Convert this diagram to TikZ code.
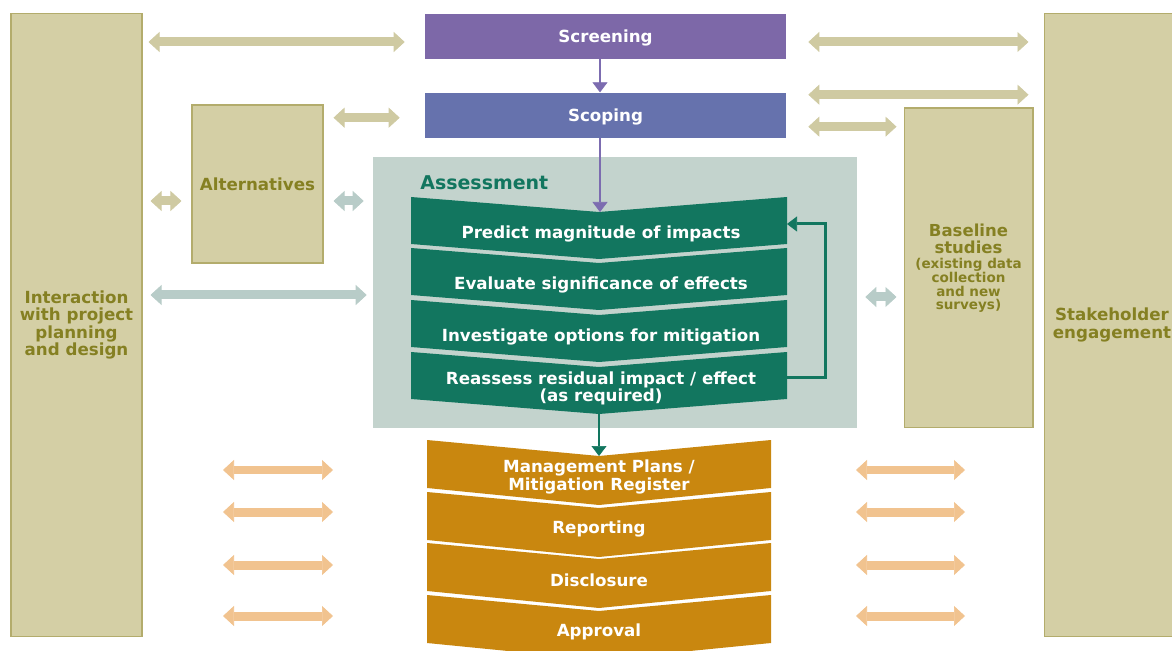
\documentclass[tikz,border=0pt]{standalone}
\usepackage{fontspec}
\setmainfont{DejaVu Sans}
\usetikzlibrary{arrows.meta, positioning, calc}
\definecolor{ScreenPurple}{HTML}{7D68A8}
\definecolor{ScopeBlue}{HTML}{6672AD}
\definecolor{LinkPurple}{HTML}{7C6CB0}
\definecolor{AssessGreen}{HTML}{12765F}
\definecolor{AssessBack}{HTML}{C3D3CD}
\definecolor{TanFill}{HTML}{D4CFA5}
\definecolor{TanEdge}{HTML}{B3AC6C}
\definecolor{TanText}{HTML}{858022}
\definecolor{TanLink}{HTML}{CFCAA2}
\definecolor{GreyLink}{HTML}{B8CCC8}
\definecolor{PlanOrange}{HTML}{C9870F}
\definecolor{OrangeLink}{HTML}{F1C38F}
\tikzset{
    % one bold face for all the labels
    base_font/.style={font=\fontsize{9.5}{9.8}\selectfont\bfseries},
    % tan side columns
    side_box/.style={
        rectangle,
        draw=TanEdge,
        fill=TanFill,
        line width=0.6pt,
        inner sep=0pt,
        align=center,
        text=TanText,
        base_font
    },
    % screening / scoping bars
    stage_block/.style={
        rectangle,
        fill=#1,
        inner sep=0pt,
        minimum width=7.22cm,
        minimum height=0.9cm,
        text depth=0pt,
        text=white,
        base_font
    },
    step_text/.style={
        align=center,
        text=white,
        inner sep=0pt,
        base_font
    },
    link_arrow/.style={
        ->,
        >={Triangle[length=0.2cm, width=0.3cm, line width=0.4pt]},
        draw=#1,
        line width=0.05cm
    },
    wide_arrow/.style={
        <->,
        >={Triangle[length=0.22cm, width=0.4cm, line width=0.4pt]},
        draw=#1,
        line width=0.18cm
    }
}
\begin{document}
\begin{tikzpicture}[x=0.02cm, y=-0.02cm]
    \useasboundingbox (0,0) rectangle (1172,651);

    % --- SIDE COLUMNS ---
    \node[side_box, minimum width=2.62cm, minimum height=12.48cm] (interact) at (76.5,325) {Interaction\\with project\\planning\\and design};
    \node[side_box, minimum width=2.72cm, minimum height=12.48cm] (stake) at (1112,325) {Stakeholder\\engagement};
    \node[side_box, minimum width=2.62cm, minimum height=3.16cm] (alt) at (257.5,184) {Alternatives};
    \node[side_box, minimum width=2.58cm, minimum height=6.4cm, font=\fontsize{7.7}{7.7}\selectfont\bfseries] (base) at (968.5,268)
        {{\fontsize{9.4}{9.8}\selectfont Baseline}\\[2pt]{\fontsize{9.4}{9.8}\selectfont studies}\\[1.3pt](existing data\\collection\\and new\\surveys)};

    % --- TOP STAGES ---
    \node[stage_block=ScreenPurple] (screen) at (605.5,36.5) {Screening};
    \node[stage_block=ScopeBlue, below=0.66cm of screen] (scope) {Scoping};

    % --- ASSESSMENT ---
    \node[fill=AssessBack, minimum width=9.68cm, minimum height=5.42cm, inner sep=0pt] (assess) at (615,292.5) {};
    \node[text=AssessGreen, font=\fontsize{10.8}{12}\selectfont\bfseries, anchor=west, inner sep=0pt] (assess_title) at (420,182.5) {Assessment};
    \foreach \ytop/\name/\label in {197/predict/{Predict magnitude of impacts}, 248/evaluate/{Evaluate significance of effects}, 300/investigate/{Investigate options for mitigation}, 352/reassess/{Reassess residual impact / effect\\(as required)}} {
        \fill[AssessGreen] (411,\ytop) -- (599,\ytop+15) -- (787,\ytop) -- (787,\ytop+47) -- (599,\ytop+62) -- (411,\ytop+47) -- cycle;
        \node[step_text] (\name) at (601,\ytop+36.5) {\label};
    }

    % --- PLANS AND APPROVAL ---
    \foreach \ytop/\name/\label in {440/mgmt/{Management Plans /\\Mitigation Register}, 492/reporting/Reporting, 543/disclosure/Disclosure, 595/approval/Approval} {
        \fill[PlanOrange] (427,\ytop) -- (599,\ytop+16) -- (771,\ytop) -- (771,\ytop+48) -- (599,\ytop+65) -- (427,\ytop+48) -- cycle;
        \node[step_text] (\name) at (599,\ytop+37) {\label};
    }

    % --- CONNECTIONS ---
    \coordinate (predict_top) at (600,212);
    \draw[link_arrow=LinkPurple] (screen.south -| predict_top) -- (scope.north -| predict_top);
    \draw[link_arrow=LinkPurple] (scope.south -| predict_top) -- (predict_top);

    % Loop back from reassessment
    \coordinate (loop_out) at (787,378);
    \coordinate (loop_in) at (787,224);
    \draw[link_arrow=AssessGreen, line width=0.06cm] (loop_out) -- ++(38,0) |- (loop_in);
    \coordinate (assess_out) at (599,413);
    \coordinate (plans_in) at (599,456);
    \draw[link_arrow=AssessGreen] (assess_out) -- (plans_in);

    % --- TWO-WAY LINKS ---
    \draw[wide_arrow=TanLink] ([xshift=0.12cm, yshift=-0.11cm]interact.east |- screen.west) -- ([xshift=-0.4cm, yshift=-0.11cm]screen.west);
    \draw[wide_arrow=TanLink] ([xshift=0.2cm, yshift=-0.05cm]alt.east |- scope.west) -- ([xshift=-0.5cm, yshift=-0.05cm]scope.west);
    \draw[wide_arrow=TanLink] ([xshift=0.16cm, yshift=-0.34cm]interact.east |- alt.west) -- ([xshift=-0.2cm, yshift=-0.34cm]alt.west);
    \draw[wide_arrow=GreyLink] ([xshift=0.2cm, yshift=-0.34cm]alt.east) -- ([xshift=-0.18cm, yshift=-0.34cm]assess.west |- alt.east);
    \draw[wide_arrow=GreyLink] ([xshift=0.16cm, yshift=-0.05cm]interact.east |- assess.west) -- ([xshift=-0.12cm, yshift=-0.05cm]assess.west);
    \draw[wide_arrow=TanLink] ([xshift=0.44cm, yshift=-0.11cm]screen.east) -- ([xshift=-0.3cm, yshift=-0.11cm]stake.west |- screen.east);
    \draw[wide_arrow=TanLink] ([xshift=0.44cm, yshift=0.41cm]scope.east) -- ([xshift=-0.3cm, yshift=0.41cm]stake.west |- scope.east);
    \draw[wide_arrow=TanLink] ([xshift=0.44cm, yshift=-0.23cm]scope.east) -- ([xshift=-0.14cm, yshift=-0.23cm]base.west |- scope.east);
    \draw[wide_arrow=GreyLink] ([xshift=0.16cm, yshift=-0.09cm]assess.east) -- ([xshift=-0.14cm, yshift=-0.09cm]base.west |- assess.east);
    \foreach \yarr in {470, 512, 565, 616} {
        \draw[wide_arrow=OrangeLink] (223,\yarr) -- (333,\yarr);
        \draw[wide_arrow=OrangeLink] (856,\yarr) -- (965,\yarr);
    }

\end{tikzpicture}
\end{document}
